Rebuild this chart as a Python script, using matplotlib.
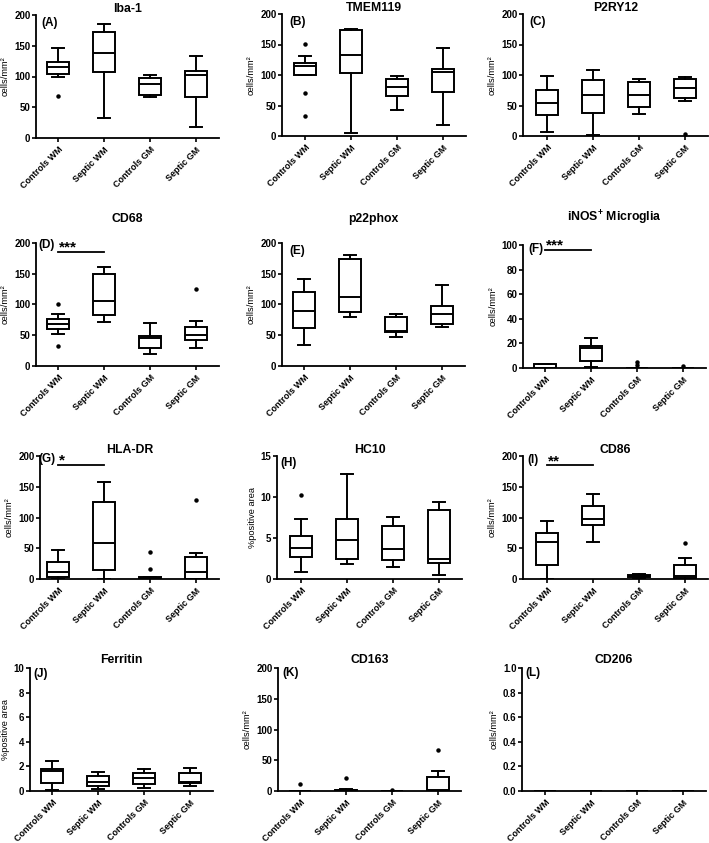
import matplotlib
matplotlib.use('Agg')
import matplotlib.pyplot as plt

plt.rcParams['font.family'] = ['Liberation Sans', 'DejaVu Sans']
plt.rcParams['font.weight'] = 'bold'
plt.rcParams['mathtext.default'] = 'regular'

groups = ['Controls WM', 'Septic WM', 'Controls GM', 'Septic GM']

# box statistics per group: [whislo, q1, median, q3, whishi]
iba1 = [[100, 104, 115, 124, 146], [32, 107, 139, 173, 185], [67, 70, 88, 97, 103], [18, 67, 103, 109, 133]]
iba1_out = [[68], [], [], []]
tmem119 = [[100, 100, 114, 119, 131], [5, 103, 133, 173, 175], [42, 65, 81, 93, 99], [18, 72, 105, 110, 144]]
tmem119_out = [[151, 70, 32], [], [], []]
p2ry12 = [[7, 35, 54, 75, 98], [2, 37, 67, 92, 109], [36, 47, 67, 88, 94], [57, 62, 79, 94, 97]]
p2ry12_out = [[], [], [], [4]]
cd68 = [[52, 60, 69, 77, 84], [72, 83, 106, 149, 161], [19, 29, 45, 48, 70], [30, 42, 51, 63, 73]]
cd68_out = [[101, 32], [], [], [126]]
p22phox = [[34, 62, 90, 120, 142], [80, 88, 113, 174, 180], [47, 55, 57, 79, 84], [64, 69, 84, 98, 132]]
p22phox_out = [[], [], [], []]
inos = [[0, 0, 0, 3, 3], [0.5, 6, 16, 18, 24], [0, 0, 0, 0.2, 0.3], [0, 0, 0, 0.2, 0.3]]
inos_out = [[], [], [2.4, 5], [2]]
hladr = [[0, 4, 12, 28, 47], [0, 15, 58, 126, 157], [0, 0, 1, 3, 3], [0, 0, 12, 36, 43]]
hladr_out = [[], [], [44, 16], [128]]
hc10 = [[0.8, 2.7, 3.8, 5.2, 7.3], [1.8, 2.5, 4.7, 7.3, 12.8], [1.5, 2.3, 3.6, 6.5, 7.6], [0.5, 1.9, 2.5, 8.4, 9.4]]
hc10_out = [[10.2], [], [], []]
cd86 = [[0, 22, 60, 75, 94], [60, 88, 98, 119, 138], [2, 3, 5, 7, 8], [0, 1, 5, 22, 34]]
cd86_out = [[], [], [], [58]]
ferritin = [[0.08, 0.63, 1.63, 1.77, 2.45], [0.14, 0.41, 0.73, 1.22, 1.58], [0.24, 0.54, 1.09, 1.44, 1.82], [0.43, 0.63, 0.76, 1.44, 1.87]]
ferritin_out = [[], [], [], []]
cd163 = [[0, 0, 0, 0, 0], [0, 0, 1, 2, 3], [0, 0, 0, 0, 0], [0, 0, 2, 23, 33]]
cd163_out = [[11], [21], [1], [67]]
cd206 = [[0, 0, 0, 0, 0], [0, 0, 0, 0, 0], [0, 0, 0, 0, 0], [0, 0, 0, 0, 0]]
cd206_out = [[], [], [], []]

titles = ['Iba-1', 'TMEM119', 'P2RY12', 'CD68', 'p22phox', 'iNOS$^{+}$ Microglia',
          'HLA-DR', 'HC10', 'CD86', 'Ferritin', 'CD163', 'CD206']
letters = ['(A)', '(B)', '(C)', '(D)', '(E)', '(F)', '(G)', '(H)', '(I)', '(J)', '(K)', '(L)']
ylabels = ['cells/mm²'] * 7 + ['%positive area', 'cells/mm²', '%positive area', 'cells/mm²', 'cells/mm²']
ymax = [200, 200, 200, 200, 200, 100, 200, 15, 200, 10, 200, 1.0]
ystep = [50, 50, 50, 50, 50, 20, 50, 5, 50, 2, 50, 0.2]
stats = [iba1, tmem119, p2ry12, cd68, p22phox, inos, hladr, hc10, cd86, ferritin, cd163, cd206]
outs = [iba1_out, tmem119_out, p2ry12_out, cd68_out, p22phox_out, inos_out, hladr_out,
        hc10_out, cd86_out, ferritin_out, cd163_out, cd206_out]
# significance: panel index -> (stars, y)
sig = {3: ('***', 186), 5: ('***', 96), 6: ('*', 186), 8: ('**', 185)}

W, H = 709, 843
fig = plt.figure(figsize=(W / 100, H / 100), dpi=100)

# layout in pixels: axis left, first tick, top, bottom, title baseline, letter x, letter y-center
layout = [
    (36, 58, 15, 138, 12.5, 41, 23), (282, 305, 14, 136, 11, 289, 22), (523, 547, 14, 136, 11, 529, 22),
    (36, 58, 243, 366, 222, 38, 245), (282, 304, 243, 366, 222, 289, 251), (523, 545, 245, 368, 222, 528, 249),
    (40, 58, 456, 579, 453, 38, 459), (277, 301, 456, 579, 453, 280, 463), (523, 547, 456, 579, 453, 527, 460),
    (30, 52, 668, 791, 663, 33, 674), (278, 300, 668, 791, 663, 282, 673), (522, 545, 668, 791, 663, 525, 673),
]
sp = 46.0

for i in range(12):
    left, t1, top, bot, ty, lx, ly = layout[i]
    x0 = 1 - (t1 - left) / sp
    x1 = 4.5
    right = left + (x1 - x0) * sp
    ax = fig.add_axes([left / W, 1 - bot / H, (right - left) / W, (bot - top) / H])
    bstats = []
    for j, s in enumerate(stats[i]):
        bstats.append(dict(whislo=s[0], q1=s[1], med=s[2], q3=s[3], whishi=s[4],
                           fliers=outs[i][j], label=groups[j]))
    lw = 1.4
    ax.bxp(bstats, positions=[1, 2, 3, 4], widths=0.48, capwidths=0.28,
           patch_artist=True, showfliers=True,
           boxprops=dict(facecolor='white', edgecolor='black', linewidth=lw),
           medianprops=dict(color='black', linewidth=lw),
           whiskerprops=dict(color='black', linewidth=lw),
           capprops=dict(color='black', linewidth=lw),
           flierprops=dict(marker='o', markerfacecolor='black', markeredgecolor='black',
                           markersize=2.2, linestyle='none'))
    ax.set_xlim(x0, x1)
    ax.set_ylim(0, ymax[i])
    n = int(round(ymax[i] / ystep[i]))
    ticks = [k * ystep[i] for k in range(n + 1)]
    ax.set_yticks(ticks)
    if ymax[i] <= 1:
        ax.set_yticklabels([f'{t:.1f}' for t in ticks])
    else:
        ax.set_yticklabels([f'{t:g}' for t in ticks])
    ax.set_xticks([1, 2, 3, 4])
    ax.set_xticklabels(groups, rotation=45, ha='right', rotation_mode='anchor', fontsize=6.5)
    ax.tick_params(axis='y', labelsize=7, length=3, width=1.2, pad=1)
    ax.tick_params(axis='x', length=3, width=1.2, pad=2)
    for s in ['top', 'right']:
        ax.spines[s].set_visible(False)
    for s in ['left', 'bottom']:
        ax.spines[s].set_linewidth(1.3)
    ax.set_ylabel(ylabels[i], fontsize=6.7, labelpad=3)
    ax.patch.set_alpha(0)
    # title
    fig.text((left + right) / 2 / W, 1 - ty / H, titles[i], ha='center', va='baseline', fontsize=8.8)
    # panel letter
    fig.text(lx / W, 1 - ly / H, letters[i], ha='left', va='center', fontsize=8.5)
    if i in sig:
        stars, yv = sig[i]
        ax.plot([1, 2], [yv, yv], color='black', lw=1.3, clip_on=False)
        ax.text(1.02, yv, stars, ha='left', va='baseline', fontsize=11)

fig.savefig('out.png', dpi=100)
